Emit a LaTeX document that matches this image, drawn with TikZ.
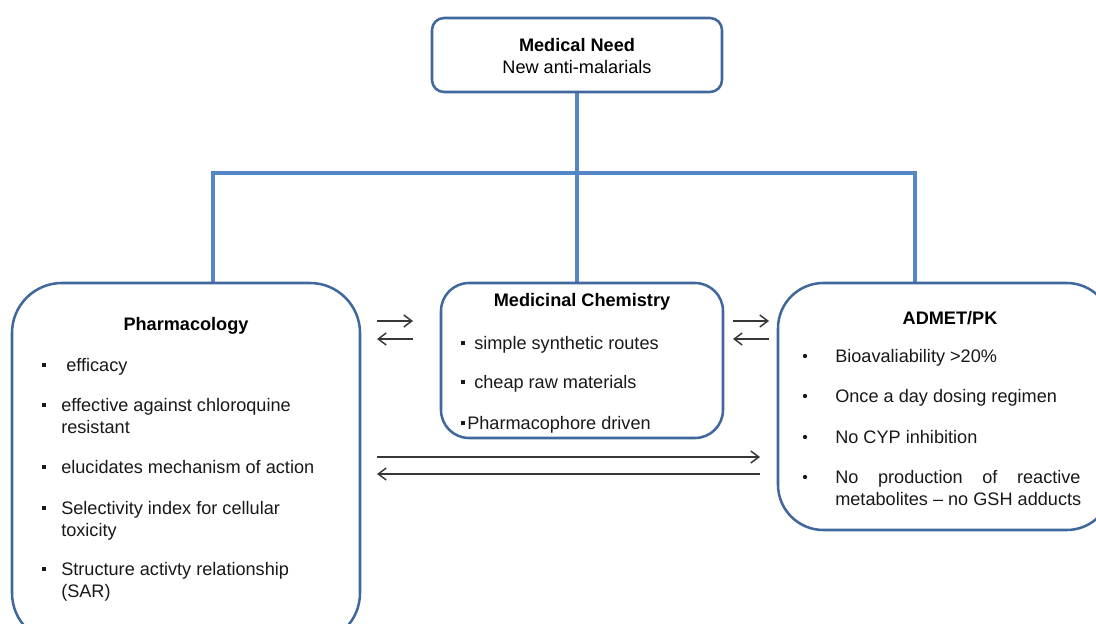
\documentclass[tikz,border=0pt]{standalone}
\usepackage{fontspec}
\setmainfont{Liberation Sans}
\usetikzlibrary{arrows.meta}
\definecolor{boxblue}{RGB}{64,104,156}
\definecolor{linkblue}{RGB}{84,135,198}
\definecolor{arrowgray}{RGB}{55,55,55}

\begin{document}
\begin{tikzpicture}[x=0.75pt,y=-0.75pt]
  \tikzstyle{box}=[draw=boxblue,line width=1.9pt,fill=white,inner sep=0pt]
  \tikzstyle{link}=[draw=linkblue,line width=2.6pt]
  \tikzstyle{flow}=[draw=arrowgray,line width=1.1pt,-{Straight Barb[length=6pt,width=9pt]}]
  \tikzstyle{title}=[font=\fontsize{13.6}{16.5}\selectfont\bfseries,inner sep=0pt]
  \tikzstyle{item}=[font=\fontsize{13.6}{16.5}\selectfont,anchor=base west,align=left,inner sep=0pt,text=black!90]
  \tikzstyle{sqbullet}=[fill=black!90,inner sep=0pt,minimum size=3.6pt]
  \tikzstyle{dotbullet}=[circle,fill=black!90,inner sep=0pt,minimum size=3.2pt]
  \useasboundingbox (0,0) rectangle (1096,624);
  \clip (0,0) rectangle (1096,624);
  % tree links
  \coordinate (bus) at (577,173);
  \coordinate (busL) at (213,173);
  \coordinate (busR) at (915,173);
  \draw[link] (577,92) -- (bus);
  \draw[link] (213,284) -- (busL) -- (busR) -- (915,284);
  \draw[link] (bus) -- (577,284);
  % boxes
  \node[box,rounded corners=9pt,minimum width=217.5pt,minimum height=55.5pt] (need) at (577,55) {};
  \node[box,rounded corners=37.5pt,minimum width=261pt,minimum height=270pt] (pharm) at (186,463) {};
  \node[box,rounded corners=21pt,minimum width=211.5pt,minimum height=116.25pt] (chem) at (582,360.5) {};
  \node[box,rounded corners=34pt,minimum width=250.5pt,minimum height=185.25pt] (admet) at (945,406.5) {};
  % titles
  \node[title,align=center] (needtxt) at (577,56) {Medical Need\\\mdseries New anti-malarials};
  \node[title] (pharmtxt) at (186,326) {Pharmacology};
  \node[title] (chemtxt) at (582,302) {Medicinal Chemistry};
  \node[title] (admettxt) at (950,318) {ADMET/PK};
  % pharmacology items (last field: extra lines)
  \foreach \i/\y/\t/\n in {1/365/{\ efficacy}/0,2/405/{effective against chloroquine\\resistant}/1,
      3/467/{elucidates mechanism of action}/0,4/508/{Selectivity index for cellular\\toxicity}/1,
      5/569/{Structure activty relationship\\(SAR)}/1}{
    \node[sqbullet] (pb\i) at (44,\y) {};
    \node[item] (pi\i) at (61,\y+6+22*\n) {\t};
  }
  % medicinal chemistry items
  \foreach \i/\y/\x/\t in {1/343/474/{simple synthetic routes},2/382/474/{cheap raw materials},
      3/423/467/{Pharmacophore driven}}{
    \node[sqbullet] (cb\i) at (463,\y) {};
    \node[item] (ci\i) at (\x,\y+6) {\t};
  }
  % admet items
  \foreach \i/\y/\t/\n in {1/356/{Bioavaliability >20\%}/0,2/396/{Once a day dosing regimen}/0,
      3/437/{No CYP inhibition}/0,4/477/{\makebox[184pt][s]{No production of reactive}\\metabolites -- no GSH adducts}/1}{
    \node[dotbullet] (ab\i) at (805,\y) {};
    \node[item] (ai\i) at (835,\y+6+22*\n) {\t};
  }
  % exchange arrows
  \coordinate (pc1) at (377,321); \coordinate (pc2) at (413,321);
  \coordinate (pc3) at (377,339); \coordinate (pc4) at (413,339);
  \coordinate (ca1) at (733,321); \coordinate (ca2) at (769,321);
  \coordinate (ca3) at (733,339); \coordinate (ca4) at (769,339);
  \coordinate (pa1) at (377,457); \coordinate (pa2) at (760,457);
  \coordinate (pa3) at (377,474); \coordinate (pa4) at (760,474);
  \draw[flow] (pc1) -- (pc2);
  \draw[flow] (pc4) -- (pc3);
  \draw[flow] (ca1) -- (ca2);
  \draw[flow] (ca4) -- (ca3);
  \draw[flow] (pa1) -- (pa2);
  \draw[flow] (pa4) -- (pa3);
\end{tikzpicture}
\end{document}
